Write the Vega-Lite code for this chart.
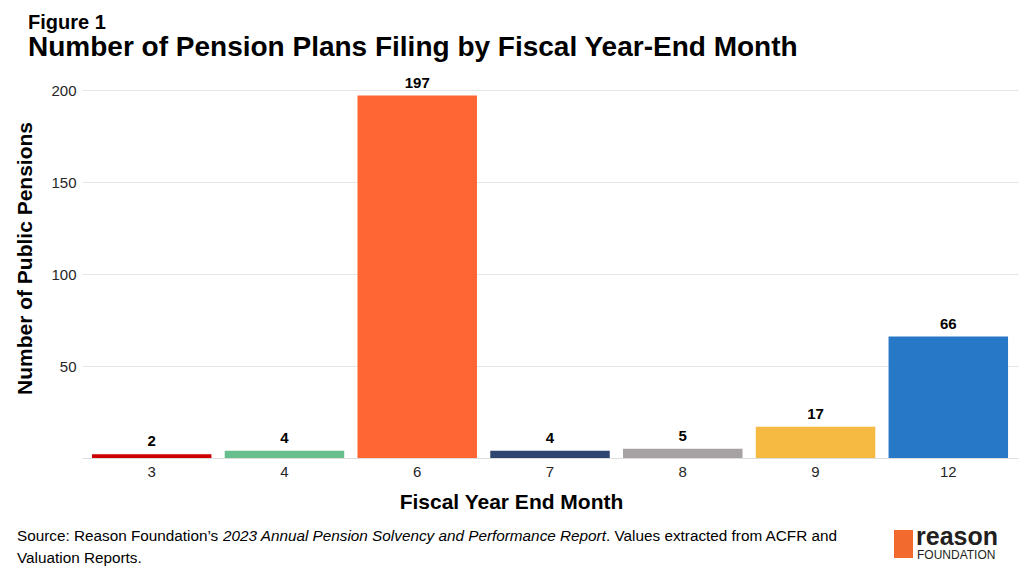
{
  "$schema": "https://vega.github.io/schema/vega-lite/v6.json",
  "autosize": "none",
  "width": 936,
  "height": 368,
  "padding": {"left": 82, "top": 90, "right": 6, "bottom": 118},
  "background": "white",
  "config": {
    "font": "Liberation Sans",
    "view": {"stroke": null}
  },
  "title": {
    "text": "Figure 1",
    "subtitle": "Number of Pension Plans Filing by Fiscal Year-End Month",
    "anchor": "start",
    "frame": "group",
    "dx": -54,
    "offset": 14,
    "fontSize": 20,
    "fontWeight": "bold",
    "color": "#000000",
    "subtitleFontSize": 28,
    "subtitleFontWeight": "bold",
    "subtitleColor": "#000000",
    "subtitlePadding": 1,
    "subtitleFont": "Liberation Sans"
  },
  "data": {
    "values": [
      {"month": "3", "count": 2},
      {"month": "4", "count": 4},
      {"month": "6", "count": 197},
      {"month": "7", "count": 4},
      {"month": "8", "count": 5},
      {"month": "9", "count": 17},
      {"month": "12", "count": 66}
    ]
  },
  "layer": [
    {
      "mark": {"type": "bar"},
      "encoding": {
        "x": {
          "field": "month",
          "type": "ordinal",
          "sort": null,
          "scale": {"paddingInner": 0.1, "paddingOuter": 0.075},
          "axis": {
            "title": "Fiscal Year End Month",
            "titleFontSize": 21,
            "titleFontWeight": "bold",
            "titleColor": "#000000",
            "titleX": 429,
            "titleY": 50,
            "titleBaseline": "alphabetic",
            "labelAngle": 0,
            "labelFontSize": 15,
            "labelColor": "#262626",
            "labelPadding": 6,
            "ticks": false,
            "domain": true,
            "domainColor": "#dedede",
            "domainWidth": 1
          }
        },
        "y": {
          "field": "count",
          "type": "quantitative",
          "scale": {"domain": [0, 200]},
          "axis": {
            "title": "Number of Public Pensions",
            "titleFontSize": 21,
            "titleFontWeight": "bold",
            "titleColor": "#000000",
            "titleAngle": -90,
            "titleX": -57,
            "titleY": 168,
            "titleAlign": "center",
            "titleBaseline": "middle",
            "values": [50, 100, 150, 200],
            "labelFontSize": 15,
            "labelColor": "#262626",
            "labelPadding": 6,
            "ticks": false,
            "domain": false,
            "grid": true,
            "gridColor": "#e6e6e6",
            "gridWidth": 1
          }
        },
        "color": {
          "field": "month",
          "type": "nominal",
          "sort": null,
          "scale": {
            "domain": ["3", "4", "6", "7", "8", "9", "12"],
            "range": ["#cc0000", "#66bf8c", "#ff6633", "#2f4670", "#a6a1a3", "#f6b942", "#2878c8"]
          },
          "legend": null
        }
      }
    },
    {
      "mark": {"type": "text", "baseline": "alphabetic", "dy": -8, "fontSize": 15, "fontWeight": "bold", "color": "#000000"},
      "encoding": {
        "x": {"field": "month", "type": "ordinal", "sort": null},
        "y": {"field": "count", "type": "quantitative"},
        "text": {"field": "count", "type": "quantitative"}
      }
    },
    {
      "data": {"values": [{"t": "Source: Reason Foundation’s"}]},
      "mark": {"type": "text", "align": "left", "baseline": "alphabetic", "x": -65, "y": 451, "fontSize": 15.3, "color": "#000000"},
      "encoding": {"text": {"field": "t"}}
    },
    {
      "data": {"values": [{"t": "2023 Annual Pension Solvency and Performance Report"}]},
      "mark": {"type": "text", "align": "left", "baseline": "alphabetic", "x": 141, "y": 451, "fontSize": 15.3, "fontStyle": "italic", "color": "#000000"},
      "encoding": {"text": {"field": "t"}}
    },
    {
      "data": {"values": [{"t": ". Values extracted from ACFR and"}]},
      "mark": {"type": "text", "align": "left", "baseline": "alphabetic", "x": 524, "y": 451, "fontSize": 15.3, "color": "#000000"},
      "encoding": {"text": {"field": "t"}}
    },
    {
      "data": {"values": [{"t": "Valuation Reports."}]},
      "mark": {"type": "text", "align": "left", "baseline": "alphabetic", "x": -65, "y": 473, "fontSize": 15.3, "color": "#000000"},
      "encoding": {"text": {"field": "t"}}
    },
    {
      "data": {"values": [{"t": "logo"}]},
      "mark": {"type": "rect", "x": 812, "x2": 831, "y": 440, "y2": 468, "color": "#f26a2e"},
      "encoding": {}
    },
    {
      "data": {"values": [{"t": "reason"}]},
      "mark": {"type": "text", "align": "left", "baseline": "alphabetic", "x": 834, "y": 455, "fontSize": 25, "fontWeight": "bold", "color": "#231f20"},
      "encoding": {"text": {"field": "t"}}
    },
    {
      "data": {"values": [{"t": "FOUNDATION"}]},
      "mark": {"type": "text", "align": "left", "baseline": "alphabetic", "x": 835, "y": 469, "fontSize": 12, "color": "#231f20"},
      "encoding": {"text": {"field": "t"}}
    }
  ]
}
